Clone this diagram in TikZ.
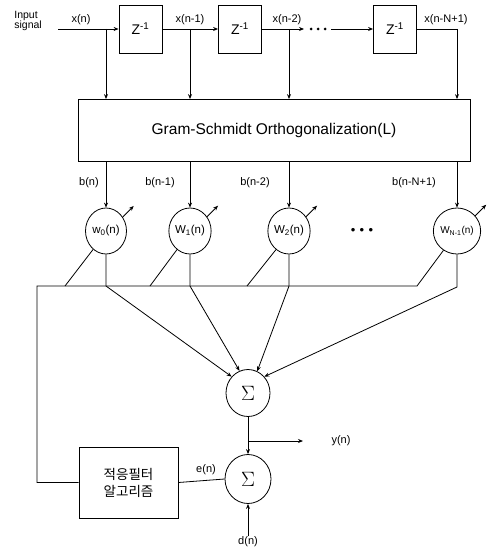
\documentclass[tikz,border=0pt]{standalone}
\usepackage{fontspec}
\setmainfont{Liberation Sans}
\newfontfamily\kr{Noto Sans CJK KR}
\usetikzlibrary{arrows.meta,shapes.geometric}
\begin{document}
\begin{tikzpicture}[x=1pt,y=-1pt,
  line width=0.8pt,
  >={Stealth[length=5pt,width=4pt]},
  lbl/.style={font=\fontsize{11}{12}\selectfont, inner sep=0pt},
  zbox/.style={draw, minimum width=43pt, minimum height=48pt, inner sep=0pt, font=\fontsize{14}{15}\selectfont},
  wnode/.style={draw, ellipse, minimum width=41pt, minimum height=46pt, inner sep=0pt, font=\fontsize{11.5}{12}\selectfont},
  snode/.style={draw, ellipse, minimum width=44pt, minimum height=47pt, inner sep=0pt, font=\fontsize{21}{22}\selectfont},
  dotm/.style={circle, fill, inner sep=0pt, minimum size=3pt}]
\useasboundingbox (0,0) rectangle (492,548);

% input and delay line
\node[lbl, align=left, anchor=west, font=\fontsize{10.5}{10}\selectfont] (insig) at (14,21) {Input\\signal};
\coordinate (in) at (58,29);
\node[zbox] (z1) at (140.5,29) {Z\textsuperscript{-1}};
\node[zbox] (z2) at (240,29) {Z\textsuperscript{-1}};
\node[zbox] (z3) at (395,29) {Z\textsuperscript{-1}};
\coordinate (t0) at (106,29);
\coordinate (t1) at (190,29);
\coordinate (t2) at (289,29);
\coordinate (t3) at (457,29);
\coordinate (da) at (304,29);
\coordinate (db) at (331,29);
\node[dotm] (m1) at (311,29) {};
\node[dotm] (m2) at (318,29) {};
\node[dotm] (m3) at (325,29) {};

\node[lbl] (lx0) at (81,20) {x(n)};
\node[lbl] (lx1) at (190,20) {x(n-1)};
\node[lbl] (lx2) at (287,20) {x(n-2)};
\node[lbl] (lx3) at (446,20) {x(n-N+1)};

\draw[->] (in) -- (z1.west);
\draw[->] (z1.east) -- (z2.west);
\draw[->] (z2.east) -- (da);
\draw[->] (db) -- (z3.west);
\draw (z3.east) -- (t3);

% Gram-Schmidt block
\node[draw, minimum width=392pt, minimum height=62pt, font=\fontsize{15.5}{16}\selectfont] (gs) at (274,130.5) {Gram-Schmidt Orthogonalization(L)};

\draw[->] (t0) -- (t0 |- gs.north);
\draw[->] (t1) -- (t1 |- gs.north);
\draw[->] (t2) -- (t2 |- gs.north);
\draw[->] (t3) -- (t3 |- gs.north);

% weights
\node[wnode] (w0) at (106,231) {w\textsubscript{0}(n)};
\node[wnode] (w1) at (190,231) {W\textsubscript{1}(n)};
\node[wnode] (w2) at (289,231) {W\textsubscript{2}(n)};
\node[wnode, font=\fontsize{10}{11}\selectfont] (w3) at (457,231) {W\textsubscript{N-1}(n)};
\node[lbl, font=\fontsize{13}{13}\selectfont] (dotsw) at (362,231) {•\,\,•\,\,•};

\node[lbl] (lb0) at (89,183) {b(n)};
\node[lbl] (lb1) at (160,183) {b(n-1)};
\node[lbl] (lb2) at (255,183) {b(n-2)};
\node[lbl] (lb3) at (414,183) {b(n-N+1)};

\draw[->] (w0 |- gs.south) -- (w0.north);
\draw[->] (w1 |- gs.south) -- (w1.north);
\draw[->] (w2 |- gs.south) -- (w2.north);
\draw[->] (w3 |- gs.south) -- (w3.north);

\draw[->] (w0.40) -- ++(11,-11);
\draw[->] (w1.40) -- ++(11,-11);
\draw[->] (w2.40) -- ++(11,-11);
\draw[->] (w3.40) -- ++(11,-11);

% summers
\node[snode] (s1) at (248,393) {$\Sigma$};
\node[snode, minimum width=46pt, minimum height=49pt] (s2) at (248,479) {$\Sigma$};

\coordinate (o0) at (106,286);
\coordinate (o1) at (190,286);
\coordinate (o2) at (289,286);
\coordinate (o3) at (457,287);
\draw[->] (w0.south) -- (o0) -- (s1.135);
\draw[->] (w1.south) -- (o1) -- (s1.111);
\draw[->] (w2.south) -- (o2) -- (s1.67);
\draw[->] (w3.south) -- (o3) -- (s1.45);

% adaptive algorithm and feedback bus
\node[draw, minimum width=99pt, minimum height=71pt, align=center, font=\kr\fontsize{13.5}{17}\selectfont] (alg) at (128.5,482.5) {적응필터\\알고리즘};
\coordinate (fa) at (37,482.5);
\coordinate (fb) at (37,286);
\coordinate (be) at (417,286);
\coordinate (b0) at (65,286);
\coordinate (b1) at (150,286);
\coordinate (b2) at (247,286);
\draw (alg.west) -- (fa) -- (fb) -- (be) -- (w3.235);
\draw (b0) -- (w0.235);
\draw (b1) -- (w1.235);
\draw (b2) -- (w2.235);

\draw (s2.west) -- (alg.east);
\node[lbl] (le) at (206,470) {e(n)};

\draw[->] (s1.south) -- (s2.north);
\coordinate (yb) at (248,441);
\coordinate (ye) at (303,441);
\draw[->] (yb) -- (ye);
\node[lbl] (ly) at (341,441) {y(n)};

\node[lbl] (ld) at (248,542) {d(n)};
\draw[->] (ld.north) -- (s2.south);
\end{tikzpicture}
\end{document}
